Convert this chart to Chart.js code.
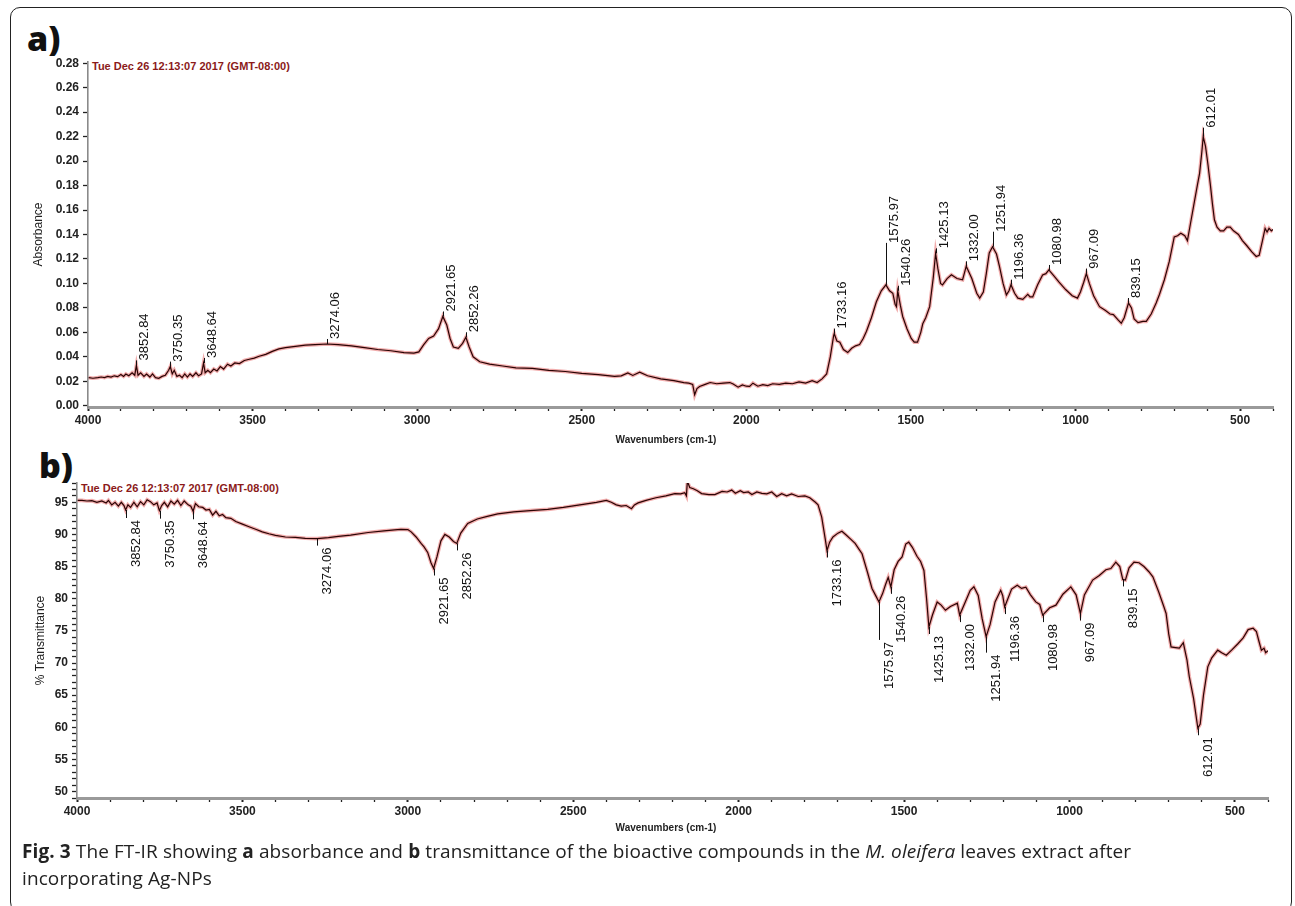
<!DOCTYPE html>
<html>
<head>
<meta charset="utf-8">
<script src="https://cdn.jsdelivr.net/npm/chart.js@4.4.0/dist/chart.umd.min.js"></script>
<style>
  body { margin: 0; background: #fff; width: 1295px; height: 906px; overflow: hidden; position: relative; font-family: "Liberation Sans", Arial, sans-serif; }
  .frame { position: absolute; left: 10px; top: 7px; width: 1282px; height: 905px; border: 1.5px solid #222; border-radius: 10px; box-sizing: border-box; }
  .panel { position: absolute; left: 0; }
  .tag { position: absolute; font-family: "Open Sans", sans-serif; font-weight: 800; font-size: 34px; line-height: 1; color: #111; }
  .stamp { position: absolute; font-weight: bold; font-size: 11px; color: #8b1a1a; white-space: nowrap; }
  .xtitle { position: absolute; font-weight: bold; font-size: 10px; color: #222; white-space: nowrap; transform: translateX(-50%); }
  .caption { position: absolute; left: 22px; top: 838px; width: 1250px; font-family: "Open Sans", sans-serif; font-size: 19px; line-height: 27px; color: #222; letter-spacing: 0.1px; }
</style>
</head>
<body>
<div class="frame"></div>
<div class="tag" style="left:27px; top:21px;">a)</div>
<div class="tag" style="left:39px; top:448px;">b)</div>
<div class="stamp" style="left:92px; top:60px;">Tue Dec 26 12:13:07 2017 (GMT-08:00)</div>
<div class="stamp" style="left:81px; top:482px;">Tue Dec 26 12:13:07 2017 (GMT-08:00)</div>
<canvas id="absChart" class="panel" style="top:0px;" width="1295" height="450"></canvas>
<canvas id="trnChart" class="panel" style="top:450px;" width="1295" height="400"></canvas>
<div class="xtitle" style="left:666px; top:434px;">Wavenumbers (cm-1)</div>
<div class="xtitle" style="left:666px; top:822px;">Wavenumbers (cm-1)</div>
<div class="caption"><b>Fig. 3</b> The FT-IR showing <b>a</b> absorbance and <b>b</b> transmittance of the bioactive compounds in the <i>M. oleifera</i> leaves extract after<br>incorporating Ag-NPs</div>

<script>
// wavenumber axis labels
const xTickLabels = [4000, 3500, 3000, 2500, 2000, 1500, 1000, 500];
const absTickLabels = [0, 0.02, 0.04, 0.06, 0.08, 0.10, 0.12, 0.14, 0.16, 0.18, 0.20, 0.22, 0.24, 0.26, 0.28];
const trnTickLabels = [50, 55, 60, 65, 70, 75, 80, 85, 90, 95];

// labelled peaks (same set on both spectra)
const peaks = [3852.84, 3750.35, 3648.64, 3274.06, 2921.65, 2852.26, 1733.16, 1575.97, 1540.26,
  1425.13, 1332.00, 1251.94, 1196.36, 1080.98, 967.09, 839.15, 612.01];

// a) absorbance spectrum
const absWn = [3998, 3985, 3970, 3960, 3950, 3940, 3930, 3920, 3910, 3900, 3892, 3885, 3876, 3866, 3858,
  3853, 3848, 3840, 3830, 3822, 3812, 3804, 3795, 3785, 3775, 3765, 3755, 3750, 3744, 3738, 3730, 3722,
  3714, 3706, 3698, 3690, 3682, 3672, 3664, 3655, 3649, 3644, 3636, 3628, 3618, 3608, 3598, 3588, 3576,
  3566, 3554, 3540, 3525, 3510, 3495, 3480, 3460, 3440, 3420, 3400, 3370, 3340, 3310, 3274, 3240, 3200,
  3160, 3120, 3080, 3040, 3010, 2995, 2980, 2965, 2950, 2935, 2922, 2910, 2900, 2890, 2875, 2862, 2852,
  2842, 2830, 2810, 2780, 2740, 2700, 2650, 2600, 2550, 2500, 2450, 2400, 2380, 2360, 2345, 2324, 2300,
  2260, 2220, 2190, 2175, 2163, 2157, 2150, 2142, 2125, 2110, 2090, 2070, 2050, 2040, 2025, 2012, 2000,
  1990, 1980, 1965, 1950, 1935, 1920, 1900, 1880, 1860, 1840, 1820, 1800, 1785, 1770, 1756, 1745, 1735,
  1733, 1725, 1716, 1705, 1692, 1680, 1668, 1656, 1645, 1635, 1620, 1605, 1590, 1576, 1565, 1555, 1548,
  1544, 1540, 1532, 1525, 1512, 1499, 1490, 1480, 1470, 1464, 1455, 1443, 1432, 1425, 1418, 1410, 1404,
  1390, 1377, 1360, 1343, 1338, 1332, 1315, 1300, 1291, 1280, 1271, 1262, 1252, 1240, 1231, 1220, 1210,
  1202, 1196, 1185, 1175, 1160, 1145, 1138, 1130, 1115, 1100, 1090, 1081, 1065, 1050, 1030, 1010, 994,
  985, 975, 967, 958, 945, 927, 910, 895, 885, 870, 861, 852, 839, 830, 822, 810, 795, 785, 770, 755, 745,
  730, 715, 700, 690, 680, 668, 660, 650, 640, 630, 623, 616, 612, 605, 598, 590, 584, 578, 570, 560, 550,
  540, 530, 520, 505, 493, 480, 465, 451, 442, 432, 424, 418, 412, 405, 400];
const absVal = [0.023, 0.0225, 0.023, 0.0235, 0.023, 0.024, 0.0235, 0.0245, 0.0238, 0.0255, 0.024, 0.026,
  0.0245, 0.027, 0.025, 0.033, 0.025, 0.027, 0.024, 0.026, 0.0235, 0.026, 0.023, 0.0225, 0.024, 0.025,
  0.029, 0.032, 0.026, 0.029, 0.024, 0.025, 0.023, 0.026, 0.0235, 0.026, 0.024, 0.027, 0.0245, 0.026,
  0.035, 0.027, 0.029, 0.027, 0.030, 0.0285, 0.032, 0.030, 0.034, 0.0325, 0.035, 0.0345, 0.037, 0.038,
  0.039, 0.0405, 0.042, 0.0445, 0.0465, 0.0475, 0.0485, 0.0495, 0.050, 0.0505, 0.050, 0.049, 0.0475,
  0.046, 0.045, 0.0435, 0.043, 0.044, 0.050, 0.055, 0.057, 0.063, 0.073, 0.066, 0.055, 0.048, 0.047,
  0.051, 0.056, 0.048, 0.040, 0.036, 0.034, 0.0325, 0.031, 0.0305, 0.029, 0.028, 0.0265, 0.0255, 0.024,
  0.0245, 0.0268, 0.0248, 0.0275, 0.0245, 0.022, 0.0205, 0.019, 0.0185, 0.0175, 0.009, 0.014, 0.0158,
  0.0175, 0.019, 0.018, 0.0185, 0.019, 0.0178, 0.0152, 0.017, 0.016, 0.0158, 0.0185, 0.016, 0.0172,
  0.0165, 0.018, 0.0175, 0.0185, 0.018, 0.0195, 0.0185, 0.0205, 0.019, 0.022, 0.026, 0.040, 0.057,
  0.059, 0.053, 0.052, 0.046, 0.0435, 0.047, 0.049, 0.050, 0.055, 0.061, 0.072, 0.085, 0.094, 0.0988,
  0.094, 0.092, 0.083, 0.081, 0.094, 0.082, 0.073, 0.063, 0.055, 0.052, 0.052, 0.060, 0.067, 0.072,
  0.081, 0.105, 0.1246, 0.112, 0.100, 0.0988, 0.104, 0.107, 0.104, 0.103, 0.108, 0.114, 0.104, 0.092,
  0.088, 0.093, 0.108, 0.125, 0.130, 0.124, 0.114, 0.100, 0.0906, 0.094, 0.099, 0.092, 0.088, 0.087,
  0.091, 0.089, 0.089, 0.099, 0.107, 0.108, 0.111, 0.106, 0.101, 0.095, 0.090, 0.088, 0.093, 0.101,
  0.108, 0.100, 0.090, 0.081, 0.078, 0.075, 0.0745, 0.070, 0.0675, 0.072, 0.084, 0.080, 0.071, 0.068,
  0.069, 0.069, 0.075, 0.084, 0.091, 0.103, 0.118, 0.138, 0.139, 0.141, 0.139, 0.135, 0.150, 0.165,
  0.180, 0.190, 0.208, 0.220, 0.212, 0.198, 0.180, 0.165, 0.152, 0.146, 0.143, 0.143, 0.146, 0.146,
  0.143, 0.140, 0.135, 0.131, 0.126, 0.122, 0.123, 0.135, 0.145, 0.142, 0.145, 0.143, 0.144];

// b) transmittance spectrum
const trnWn = [3998, 3985, 3970, 3955, 3940, 3925, 3912, 3905, 3895, 3885, 3875, 3866, 3858, 3853, 3846,
  3838, 3828, 3818, 3808, 3798, 3788, 3778, 3768, 3758, 3751, 3744, 3736, 3726, 3716, 3706, 3696, 3686,
  3676, 3664, 3656, 3649, 3642, 3632, 3620, 3610, 3600, 3590, 3580, 3570, 3560, 3550, 3535, 3520, 3500,
  3480, 3460, 3440, 3420, 3400, 3370, 3340, 3310, 3274, 3240, 3210, 3173, 3120, 3072, 3040, 3021, 3000,
  2990, 2975, 2960, 2951, 2940, 2930, 2922, 2912, 2900, 2888, 2875, 2862, 2852, 2840, 2819, 2790, 2760,
  2728, 2680, 2630, 2577, 2530, 2480, 2430, 2400, 2385, 2370, 2355, 2340, 2324, 2315, 2304, 2280, 2250,
  2220, 2193, 2175, 2163, 2158, 2155, 2148, 2137, 2125, 2112, 2090, 2072, 2050, 2035, 2021, 2010, 1995,
  1985, 1971, 1960, 1945, 1930, 1915, 1900, 1885, 1870, 1855, 1840, 1820, 1800, 1785, 1769, 1760, 1749,
  1738, 1733, 1725, 1715, 1700, 1688, 1675, 1660, 1648, 1635, 1627, 1610, 1597, 1585, 1576, 1565, 1556,
  1548, 1540, 1530, 1518, 1506, 1495, 1486, 1475, 1461, 1450, 1440, 1432, 1425, 1414, 1400, 1388, 1375,
  1360, 1339, 1332, 1315, 1300, 1289, 1276, 1264, 1252, 1240, 1225, 1208, 1202, 1196, 1175, 1158, 1145,
  1132, 1118, 1102, 1090, 1081, 1060, 1041, 1020, 996, 980, 967, 955, 930, 910, 890, 875, 860, 848, 839,
  831, 820, 805, 790, 775, 760, 748, 730, 715, 708, 700, 693, 680, 668, 656, 645, 638, 625, 612, 605, 595,
  582, 570, 552, 540, 526, 510, 491, 475, 460, 445, 435, 428, 420, 412, 407, 400];
const trnVal = [95.3, 95.3, 95.2, 95.25, 95.0, 95.2, 94.9, 95.3, 94.6, 95.0, 94.4, 95.0, 94.5, 93.8, 94.6,
  94.2, 95.0, 94.3, 95.1, 94.6, 95.4, 95.1, 94.6, 94.9, 93.7, 94.5, 95.0, 94.3, 95.2, 94.7, 95.3, 94.5,
  95.2, 94.6, 94.4, 93.6, 94.8, 94.3, 94.2, 93.8, 93.9, 93.0, 93.6, 92.9, 93.1, 92.6, 92.5, 92.0, 91.6,
  91.2, 90.8, 90.4, 90.1, 89.85, 89.6, 89.55, 89.4, 89.35, 89.5, 89.7, 89.9, 90.3, 90.55, 90.7, 90.8,
  90.75, 90.4, 89.6, 88.6, 88.06, 87.2, 85.6, 84.7, 86.5, 89.0, 90.0, 89.6, 88.9, 88.6, 90.2, 91.7, 92.4,
  92.8, 93.2, 93.5, 93.7, 93.9, 94.2, 94.6, 95.0, 95.3, 95.0, 94.6, 94.4, 94.5, 94.0, 94.6, 94.9, 95.3,
  95.7, 96.0, 96.35, 96.3, 96.5, 96.0, 98.3, 97.3, 97.1, 96.8, 96.35, 96.2, 96.2, 96.7, 96.6, 96.9, 96.4,
  96.8, 96.5, 96.6, 96.2, 96.6, 96.4, 96.3, 96.6, 95.9, 96.35, 96.0, 96.3, 95.9, 96.0, 95.7, 95.05, 94.6,
  92.7, 89.2, 87.5, 88.8, 89.6, 90.2, 90.5, 89.9, 89.2, 88.6, 87.6, 87.0, 84.0, 81.6, 80.4, 79.5, 80.8,
  82.2, 83.3, 81.85, 84.5, 85.8, 86.5, 88.5, 88.8, 88.0, 86.6, 85.8, 84.4, 80.0, 75.6, 77.5, 79.5, 79.0,
  78.2, 78.8, 79.3, 77.45, 79.5, 81.3, 81.85, 80.5, 76.9, 74.1, 76.0, 79.5, 81.3, 80.5, 78.7, 81.5, 82.1,
  81.6, 81.8, 80.6, 79.5, 79.1, 77.45, 78.6, 79.0, 80.7, 81.85, 80.6, 77.7, 80.6, 82.9, 83.6, 84.5, 84.7,
  85.7, 85.0, 83.0, 82.9, 84.8, 85.7, 85.6, 85.0, 84.2, 83.4, 81.0, 78.8, 77.7, 74.5, 72.5, 72.4, 72.3,
  73.15, 70.5, 67.9, 64.5, 59.85, 60.5, 65.0, 69.4, 70.8, 72.0, 71.6, 71.2, 72.0, 73.0, 73.9, 75.2, 75.4,
  74.9, 73.5, 72.0, 72.3, 71.6, 71.9];

const fontTick = { family: '"Liberation Sans", Arial, sans-serif', weight: 'bold', size: 12 };

// rotated peak labels with short leader lines
const peakLabels = {
  id: 'peakLabels',
  afterDatasetsDraw(chart, args, opts) {
    const { ctx, scales: { x, y } } = chart;
    const pts = chart.data.datasets[0].data;
    ctx.save();
    ctx.strokeStyle = '#111';
    ctx.lineWidth = 1;
    ctx.fillStyle = '#111';
    ctx.font = '13px "Liberation Sans", Arial, sans-serif';
    ctx.textBaseline = 'middle';
    opts.peaks.forEach(function (p) {
      let best = pts[0];
      pts.forEach(function (d) {
        if (Math.abs(d.x - p) < Math.abs(best.x - p)) best = d;
      });
      const px = Math.round(x.getPixelForValue(p)) + 0.5;
      const py = y.getPixelForValue(best.y);
      const key = p.toFixed(2);
      const lift = opts.lift[key] !== undefined ? opts.lift[key] : opts.defaultLift;
      const end = py + opts.dir * lift;
      ctx.beginPath();
      ctx.moveTo(px, py);
      ctx.lineTo(px, end);
      ctx.stroke();
      ctx.save();
      ctx.translate(px + opts.dx, end + opts.dir * opts.gap);
      ctx.rotate(-Math.PI / 2);
      ctx.textAlign = opts.dir < 0 ? 'left' : 'right';
      ctx.fillText(key, 0, 0);
      ctx.restore();
    });
    ctx.restore();
  },
};

function makeSpectrum(id, wn, vals, cfg) {
  const points = wn.map(function (w, i) { return { x: w, y: vals[i] }; });
  const ctx = document.getElementById(id).getContext('2d');
  return new Chart(ctx, {
    type: 'line',
    data: {
      datasets: [
        { data: points, borderColor: '#2a0404', borderWidth: 1.2, pointRadius: 0, tension: 0, order: 0 },
        { data: points, borderColor: 'rgba(220,50,50,0.4)', borderWidth: 3.6, pointRadius: 0, tension: 0, order: 1 },
      ],
    },
    options: {
      responsive: false,
      animation: false,
      devicePixelRatio: 1,
      layout: { padding: { top: cfg.top, right: cfg.right, left: 0, bottom: 0 } },
      plugins: {
        legend: { display: false },
        tooltip: { enabled: false },
        peakLabels: cfg.labels,
      },
      scales: {
        x: {
          type: 'linear',
          reverse: true,
          min: 400,
          max: 4000,
          afterFit: function (s) { s.height = cfg.xHeight; },
          ticks: {
            stepSize: 100,
            autoSkip: false,
            maxRotation: 0,
            padding: 2,
            color: '#222',
            font: fontTick,
            callback: function (v) { return xTickLabels.includes(v) ? String(v) : ''; },
          },
          grid: {
            drawOnChartArea: false,
            drawTicks: true,
            tickLength: 4,
            tickColor: '#222',
            tickWidth: function (c) { return xTickLabels.includes(c.tick && c.tick.value) ? 2 : 1.3; },
          },
          border: { display: true, color: '#9a9a9a', width: 3 },
        },
        y: {
          min: cfg.yMin,
          max: cfg.yMax,
          afterFit: function (s) { s.width = cfg.yWidth; },
          ticks: {
            stepSize: cfg.yStep,
            includeBounds: false,
            autoSkip: false,
            padding: 4,
            color: '#222',
            font: fontTick,
            callback: cfg.yLabel,
          },
          grid: {
            drawOnChartArea: false,
            drawTicks: true,
            tickLength: 5,
            tickColor: '#222',
            tickWidth: 1.3,
          },
          border: { display: true, color: '#8a8a8a', width: 1.6 },
          title: {
            display: true,
            text: cfg.yTitle,
            color: '#222',
            font: { family: fontTick.family, size: 12 },
            padding: { top: cfg.titlePad, bottom: 0 },
          },
        },
      },
    },
    plugins: [peakLabels],
  });
}

window.onload = function () {
  makeSpectrum('absChart', absWn, absVal, {
    top: 62, right: 22, xHeight: 43, yWidth: 88,
    yMin: -0.001, yMax: 0.281, yStep: 0.02,
    yLabel: function (v) {
      return absTickLabels.some(function (t) { return Math.abs(t - v) < 1e-6; }) ? v.toFixed(2) : '';
    },
    yTitle: 'Absorbance', titlePad: 31,
    labels: { peaks: peaks, dir: -1, defaultLift: 5, gap: 0, dx: 8, lift: { '1575.97': 42, '1251.94': 15, '612.01': 9 } },
  });
  makeSpectrum('trnChart', trnWn, trnVal, {
    top: 33, right: 27, xHeight: 52, yWidth: 77,
    yMin: 49, yMax: 98, yStep: 1,
    yLabel: function (v) { return trnTickLabels.includes(v) ? String(v) : ''; },
    yTitle: '% Transmittance', titlePad: 33,
    labels: { peaks: peaks, dir: 1, defaultLift: 7, gap: 2, dx: 10, lift: { '1575.97': 38, '1251.94': 16, '3852.84': 8, '3750.35': 8, '3648.64': 8 } },
  });
};
</script>
</body>
</html>
